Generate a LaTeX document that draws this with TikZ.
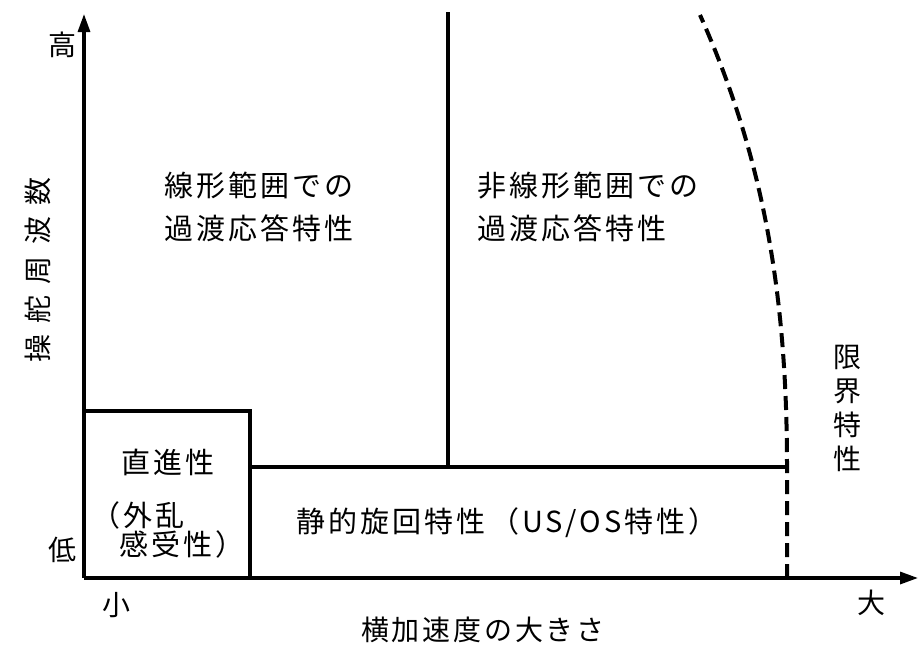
\documentclass[tikz,border=0pt]{standalone}
\usepackage{fontspec}
\newfontfamily\jp[LetterSpace=10]{Noto Sans CJK JP}
\newfontfamily\jpwide[LetterSpace=40]{Noto Sans CJK JP}
\usetikzlibrary{arrows.meta}
\begin{document}
\begin{tikzpicture}[x=1pt,y=-1pt,line width=3.2pt,
  lbl/.style={font=\jp\fontsize{29}{43}\selectfont,inner sep=0pt,align=left},
  axlbl/.style={font=\jp\fontsize{28}{34}\selectfont,inner sep=0pt,align=center},
  axarrow/.style={-{Triangle[length=18pt,width=12pt]}},
  limit/.style={dash pattern=on 14pt off 7pt,line width=4pt}]
\useasboundingbox (0,0) rectangle (918,645);
% axes
\coordinate (O) at (84,578);
\coordinate (Ytop) at (84,14);
\coordinate (Xend) at (918,578);
\draw[axarrow] (O) -- (Ytop);
\draw[axarrow] (O) -- (Xend);
% region boundaries
\coordinate (A) at (84,411);
\coordinate (B) at (250,411);
\coordinate (C) at (250,578);
\coordinate (D) at (250,467);
\coordinate (E) at (787,467);
\coordinate (F) at (448,467);
\coordinate (G) at (448,12);
\coordinate (H) at (787,578);
\coordinate (K) at (700,15);
\draw (A) -- (B) -- (C);
\draw (D) -- (E);
\draw (F) -- (G);
\draw[limit] (H) -- (E) .. controls (787,300) and (765,160) .. (K);
% region labels
\node[lbl,anchor=west] (lin) at (163,207) {線形範囲での\\過渡応答特性};
\node[lbl,anchor=west] (nonlin) at (476,207) {非線形範囲での\\過渡応答特性};
\node[lbl,anchor=west] (str1) at (120,462) {直進性};
\node[lbl,anchor=west] (str2) at (90,515) {（外乱};
\node[lbl,anchor=west] (str3) at (118,544) {感受性）};
\node[lbl,anchor=center] (stat) at (507,523) {静的旋回特性\,（US/OS特性）};
\node[axlbl] (lim) at (847,408) {限\\界\\特\\性};
% axis labels
\node[axlbl] (hi) at (62,45) {高};
\node[axlbl] (lo) at (62,550) {低};
\node[axlbl] (sm) at (116,605) {小};
\node[axlbl] (lg) at (871,603) {大};
\node[axlbl] (xl) at (483,630) {横加速度の大きさ};
\node[inner sep=0pt,font=\jpwide\fontsize{28}{34}\selectfont,rotate=90] (yl) at (38,270) {操舵周波数};
\end{tikzpicture}
\end{document}
